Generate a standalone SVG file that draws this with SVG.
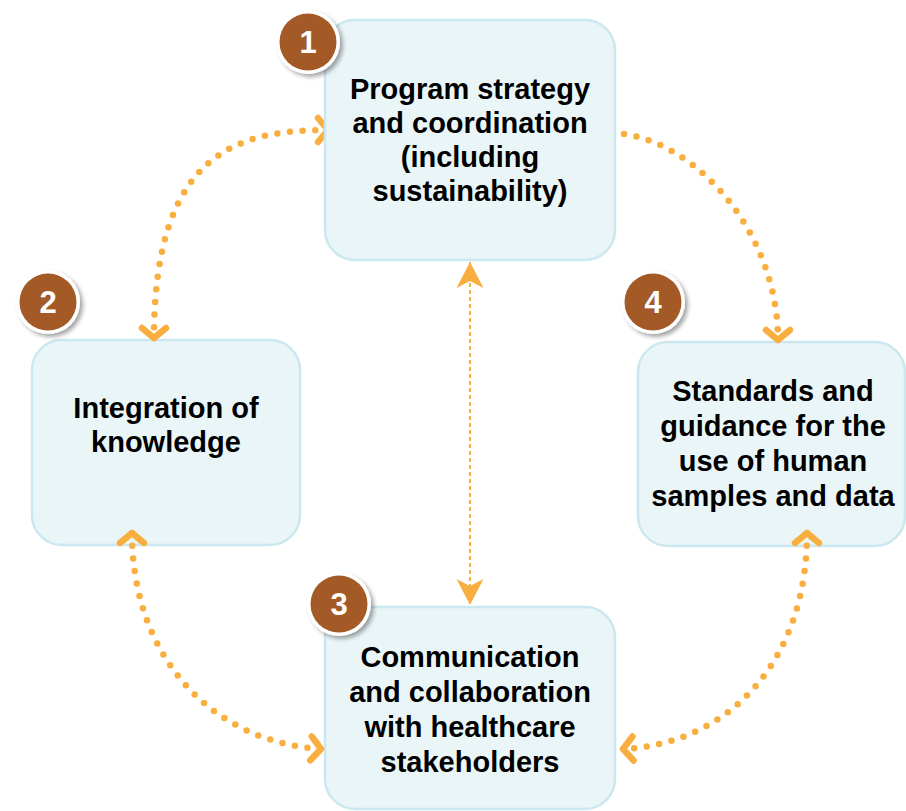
<svg xmlns="http://www.w3.org/2000/svg" width="906" height="811" viewBox="0 0 906 811">
  <style>
    .box { fill: #EAF5F8; stroke: #CBE7F0; stroke-width: 2.5; }
    .lbl { font-family: "Liberation Sans", Arial, sans-serif; font-weight: bold; font-size: 29px; fill: #000; text-anchor: middle; }
    .num { font-family: "Liberation Sans", Arial, sans-serif; font-weight: bold; font-size: 31px; fill: #fff; text-anchor: middle; }
    .ring { fill: #fff; }
    .disc { fill: #A35A27; }
    .dots { fill: none; stroke: #F9AE40; stroke-width: 6.5; stroke-linecap: round; stroke-dasharray: 0 12.7; }
    .dash { fill: none; stroke: #F9AE40; stroke-width: 2; stroke-dasharray: 4 3; }
  </style>
  <defs>
    <filter id="sh" x="-30%" y="-30%" width="170%" height="170%">
      <feDropShadow dx="3" dy="3" stdDeviation="2.2" flood-color="#000" flood-opacity="0.35"/>
    </filter>
    <marker id="chev" markerUnits="userSpaceOnUse" viewBox="-20 -20 40 40" markerWidth="40" markerHeight="40" refX="0" refY="0" orient="auto-start-reverse" overflow="visible">
      <path d="M-10,-12 L0,0 L-10,12" fill="none" stroke="#F9AE40" stroke-width="6.5" stroke-linecap="round" stroke-linejoin="round"/>
    </marker>
    <marker id="stealth" markerUnits="userSpaceOnUse" viewBox="-30 -15 32 30" markerWidth="32" markerHeight="30" refX="0" refY="0" orient="auto-start-reverse" overflow="visible">
      <path d="M0,0 L-26,-13.5 L-19,0 L-26,13.5 Z" fill="#F9AE40"/>
    </marker>
  </defs>

  <g id="node2">
    <rect class="box" x="32" y="340" width="268" height="205" rx="30" ry="30"/>
    <text class="lbl" x="166" y="418">Integration of</text>
    <text class="lbl" x="166" y="452">knowledge</text>
    <circle class="ring" cx="48" cy="302" r="32" filter="url(#sh)"/>
    <circle class="disc" cx="48" cy="302" r="28.5"/>
    <text class="num" x="48" y="313">2</text>
  </g>

  <g id="node3">
    <rect class="box" x="325" y="607" width="290" height="202" rx="30" ry="30"/>
    <text class="lbl" x="470" y="667">Communication</text>
    <text class="lbl" x="470" y="702">and collaboration</text>
    <text class="lbl" x="470" y="737">with healthcare</text>
    <text class="lbl" x="470" y="772">stakeholders</text>
    <circle class="ring" cx="339" cy="604" r="32" filter="url(#sh)"/>
    <circle class="disc" cx="339" cy="604" r="28.5"/>
    <text class="num" x="339" y="615">3</text>
  </g>

  <g id="node4">
    <rect class="box" x="638" y="342" width="267" height="204" rx="30" ry="30"/>
    <text class="lbl" x="773" y="401">Standards and</text>
    <text class="lbl" x="773" y="436">guidance for the</text>
    <text class="lbl" x="773" y="471">use of human</text>
    <text class="lbl" x="773" y="506">samples and data</text>
    <circle class="ring" cx="653" cy="302" r="32" filter="url(#sh)"/>
    <circle class="disc" cx="653" cy="302" r="28.5"/>
    <text class="num" x="653" y="313">4</text>
  </g>

  <g id="connectors">
    <path class="dots" d="M328,130 C240,130 154,150 154,338" marker-start="url(#chev)" marker-end="url(#chev)"/>
    <path class="dots" d="M624,134 C700,145 778,235 778,340" marker-end="url(#chev)"/>
    <path class="dots" d="M132,533 C132,655 210,742 321,749" marker-start="url(#chev)" marker-end="url(#chev)"/>
    <path class="dots" d="M807,533 C807,660 730,744 623,749" marker-start="url(#chev)" marker-end="url(#chev)"/>
    <path class="dash" d="M470,262 L470,605" marker-start="url(#stealth)" marker-end="url(#stealth)"/>
  </g>

  <g id="node1">
    <rect class="box" x="325" y="20" width="290" height="240" rx="30" ry="30"/>
    <text class="lbl" x="470" y="99">Program strategy</text>
    <text class="lbl" x="470" y="133">and coordination</text>
    <text class="lbl" x="470" y="167">(including</text>
    <text class="lbl" x="470" y="201">sustainability)</text>
    <circle class="ring" cx="308" cy="42" r="32" filter="url(#sh)"/>
    <circle class="disc" cx="308" cy="42" r="28.5"/>
    <text class="num" x="308" y="53">1</text>
  </g>
</svg>
